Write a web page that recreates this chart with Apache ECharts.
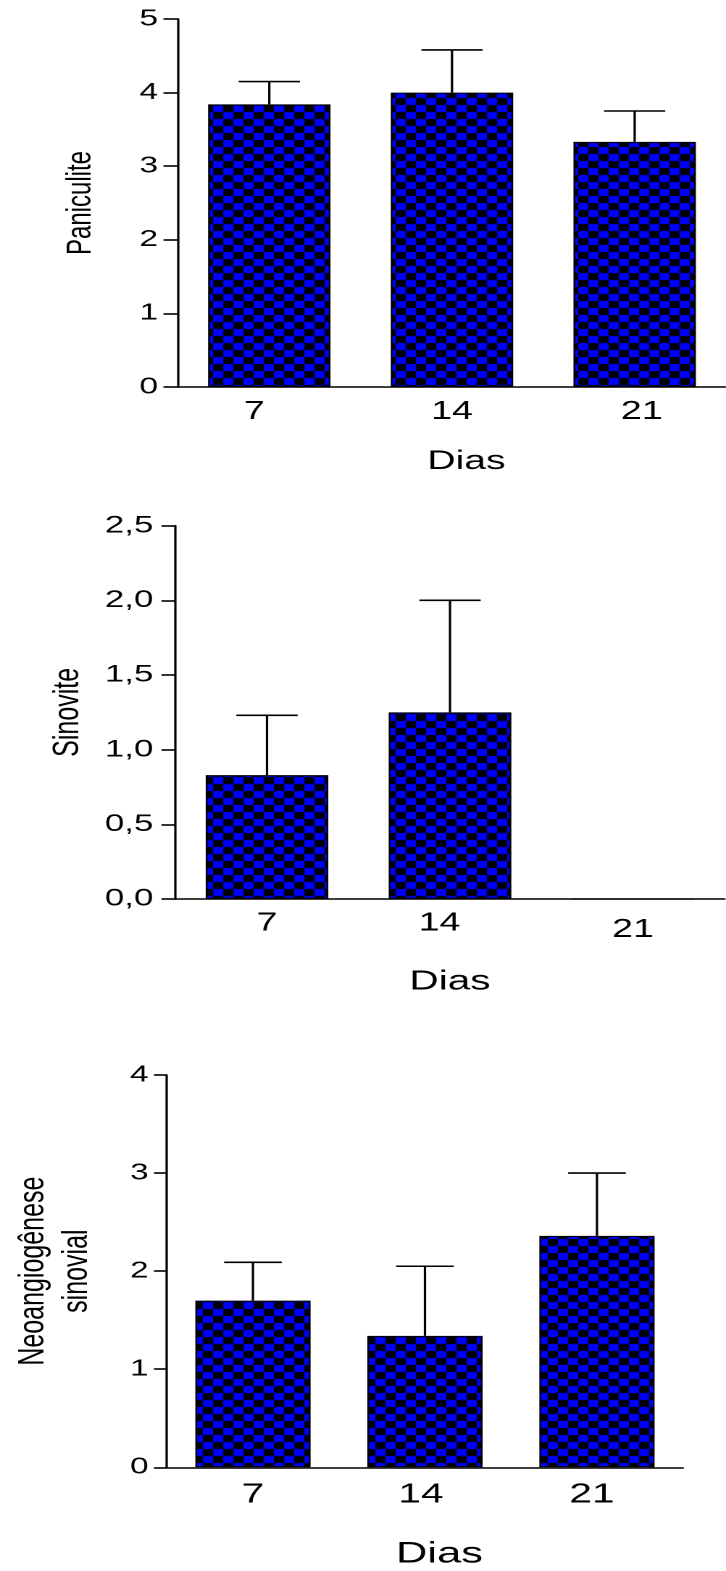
<!DOCTYPE html>
<html>
<head>
<meta charset="utf-8">
<script src="https://cdn.jsdelivr.net/npm/echarts@6/dist/echarts.min.js"></script>
<style>
  html, body { margin: 0; padding: 0; background: #fff; overflow: hidden; }
  /* the figure is laid out at a narrow width and widened horizontally */
  #chart { position: absolute; left: 0; top: 0; width: 501px; height: 1571px;
           transform-origin: 0 0; transform: scaleX(1.4491); }
</style>
</head>
<body>
<div id="chart"></div>
<script>
// ---- data ----
const dias = ['7', '14', '21'];

const paniculiteMean = [3.84, 4.00, 3.33];
const paniculiteSD   = [0.31, 0.58, 0.42];
const paniculiteTicks = ['0', '1', '2', '3', '4', '5'];

const sinoviteMean = [0.83, 1.25, 0];
const sinoviteSD   = [0.40, 0.75, 0];
const sinoviteTicks = ['0,0', '0,5', '1,0', '1,5', '2,0', '2,5'];

const neoMean = [1.70, 1.34, 2.36];
const neoSD   = [0.39, 0.71, 0.64];
const neoTicks = ['0', '1', '2', '3', '4'];

// ---- look ----
const FONT = '"Liberation Sans", Arial, sans-serif';

function checker(cell) {
  const c = document.createElement('canvas');
  c.width = c.height = cell * 2;
  const g = c.getContext('2d');
  g.fillStyle = '#000000';
  g.fillRect(0, 0, cell * 2, cell * 2);
  g.fillStyle = '#0000ff';
  g.fillRect(0, 0, cell, cell);
  g.fillRect(cell, cell, cell, cell);
  return c;
}
const checkerFill = { image: checker(7), repeat: 'repeat' };

const panels = [
  {
    mean: paniculiteMean, sd: paniculiteSD, ticks: paniculiteTicks,
    max: 5, interval: 1, title: 'Paniculite',
    grid: { left: 122.8, top: 19, width: 383, height: 368 },
    tickLen: 10, tickFont: 23, labelMargin: 13.8,
    xFont: 26, xMargin: 11.7, nudges: [[0, 20.7, 0, 0], [0, 0, 0, 0], [0, 0, 0, 9.7]],
    nameFont: 27, nameGap: 61, namePad: [0, 0, 0, 20],
    titleFont: 24, titleGap: 55, titleLH: 24
  },
  {
    mean: sinoviteMean, sd: sinoviteSD, ticks: sinoviteTicks,
    max: 2.5, interval: 0.5, title: 'Sinovite',
    grid: { left: 121.1, top: 525.7, width: 378.9, height: 373.3 },
    tickLen: 9.7, tickFont: 24, labelMargin: 15.3,
    xFont: 26, xMargin: 11.5, nudges: [[0, 0, 0, 0], [0, 14.5, 0, 0], [6.5, 0, 0, 0]],
    nameFont: 28, nameGap: 69, namePad: [0, 0, 0, 0],
    titleFont: 25, titleGap: 61.7, titleLH: 25
  },
  {
    mean: neoMean, sd: neoSD, ticks: neoTicks,
    max: 4, interval: 1, title: 'Neoangiogênese\nsinovial',
    grid: { left: 111.1, top: 1075, width: 360.2, height: 392.3 },
    tickLen: 9, tickFont: 23, labelMargin: 12.6,
    xFont: 28, xMargin: 13.7, nudges: [[0, 0, 0, 0], [0, 5.5, 0, 0], [0, 7, 0, 0]],
    nameFont: 30, nameGap: 71.7, namePad: [0, 0, 0, 20],
    titleFont: 25, titleGap: 47.2, titleLH: 30
  }
];

const axisLine = { show: true, lineStyle: { color: '#000', width: 1.6 } };

const grid = [], xAxis = [], yAxis = [], series = [];
panels.forEach((p, k) => {
  grid.push(Object.assign({ containLabel: false }, p.grid));
  xAxis.push({
    type: 'category', gridIndex: k,
    data: dias.map((d, i) => ({ value: d, textStyle: { padding: p.nudges[i] } })),
    axisLine: axisLine, axisTick: { show: false },
    axisLabel: { color: '#000', fontFamily: FONT, fontSize: p.xFont, margin: p.xMargin },
    name: 'Dias', nameLocation: 'middle', nameGap: p.nameGap,
    nameTextStyle: { color: '#000', fontFamily: FONT, fontSize: p.nameFont, padding: p.namePad }
  });
  yAxis.push({
    type: 'value', gridIndex: k, min: 0, max: p.max, interval: p.interval,
    axisLine: axisLine,
    axisTick: { show: true, inside: false, length: p.tickLen, lineStyle: { color: '#000', width: 1.6 } },
    splitLine: { show: false },
    axisLabel: {
      color: '#000', fontFamily: FONT, fontSize: p.tickFont, margin: p.labelMargin,
      formatter: (v) => p.ticks[Math.round(v / p.interval)]
    },
    name: p.title, nameLocation: 'middle', nameRotate: 90, nameGap: p.titleGap,
    nameTextStyle: { color: '#000', fontFamily: FONT, fontSize: p.titleFont, lineHeight: p.titleLH, align: 'center' }
  });
  series.push({
    type: 'bar', xAxisIndex: k, yAxisIndex: k,
    data: p.mean,
    barWidth: '67%',
    itemStyle: { color: checkerFill, borderColor: '#000', borderWidth: 1.2 },
    silent: true
  });
  series.push({
    type: 'custom', xAxisIndex: k, yAxisIndex: k,
    data: p.mean.map((m, i) => [i, m, p.sd[i]]),
    encode: { x: 0, y: 1 },
    silent: true,
    renderItem: (params, api) => {
      const i = api.value(0), m = api.value(1), s = api.value(2);
      if (!s) return null;
      const base = api.coord([i, m]);
      const top = api.coord([i, m + s]);
      const half = api.size([1, 0])[0] * 0.67 * 0.25;
      const st = { stroke: '#000', lineWidth: 1.6 };
      return {
        type: 'group',
        children: [
          { type: 'line', shape: { x1: base[0], y1: base[1], x2: top[0], y2: top[1] }, style: st },
          { type: 'line', shape: { x1: top[0] - half, y1: top[1], x2: top[0] + half, y2: top[1] }, style: st }
        ]
      };
    }
  });
});

const chart = echarts.init(document.getElementById('chart'), null, { renderer: 'canvas', devicePixelRatio: 2 });
chart.setOption({
  animation: false,
  backgroundColor: '#fff',
  grid: grid, xAxis: xAxis, yAxis: yAxis, series: series
});
</script>
</body>
</html>
